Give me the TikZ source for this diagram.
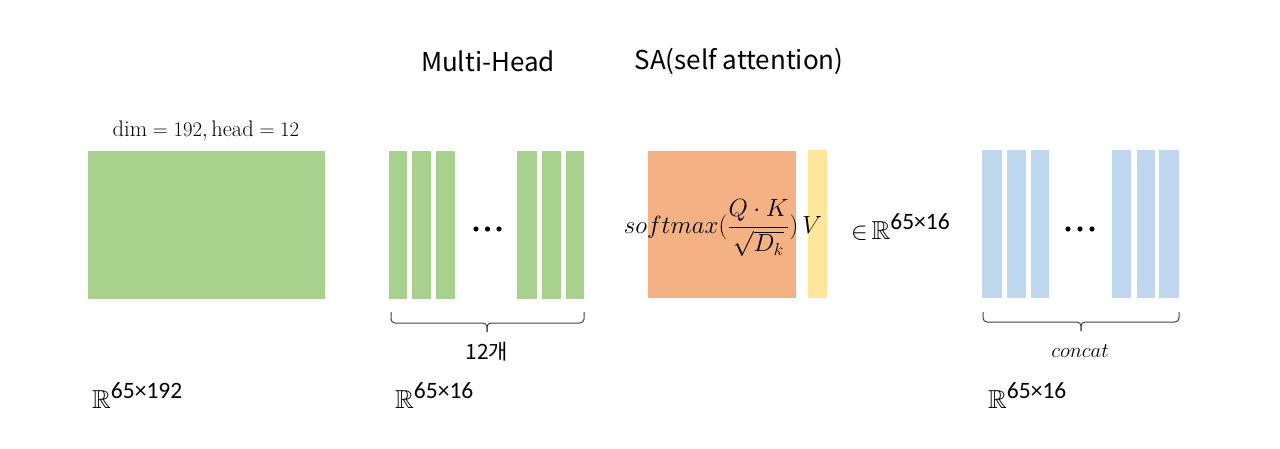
\documentclass[tikz,border=0pt]{standalone}
\usepackage{amsmath,amssymb}
\usepackage{fontspec}
\newfontfamily\krfont{Noto Sans CJK KR}
\newfontfamily\calfont{Carlito}
\definecolor{cgreen}{HTML}{A9D18E}
\definecolor{corange}{HTML}{F4B183}
\definecolor{cyellow}{HTML}{FFE699}
\definecolor{cblue}{HTML}{BDD7EE}
\definecolor{cbrace}{HTML}{404040}
\tikzset{
  brc/.style={draw=cbrace, line width=1pt, rounded corners=4pt},
  dotc/.style={fill=black},
  title/.style={font=\krfont\fontsize{26}{30}\selectfont, inner sep=0pt},
  dimlab/.style={anchor=west, inner sep=0pt},
}
\newcommand{\Rdim}[1]{{\fontsize{26}{30}\selectfont$\mathbb{R}$}\raisebox{10pt}{\calfont\fontsize{23.5}{26}\selectfont #1}}
\begin{document}
\begin{tikzpicture}[x=1pt, y=-1pt]
\useasboundingbox (0,0) rectangle (1280,449);
% titles
\node[title] (mh) at (488,61) {Multi-Head};
\node[title] (sa) at (739,61) {SA(self attention)};
% dim label
\node[inner sep=0pt] (dimhead) at (206,131) {\fontsize{22.5}{26}\selectfont$\mathrm{dim}=192, \mathrm{head}=12$};
% big green block
\fill[cgreen] (88,151) rectangle (325,299);
% multi-head strips
\foreach \a/\b in {389/407, 412/431, 436/455, 517/537, 542/561, 566/584}
  \fill[cgreen] (\a,151) rectangle (\b,299);
\foreach \x in {476,487.5,499} \fill[dotc] (\x,229) circle (2.6);
\coordinate (b1l) at (391,312);
\coordinate (b1r) at (584,312);
\coordinate (b1m) at (487,323);
\coordinate (b1t) at (487,332);
\draw[brc] (b1l) |- (b1m) -- (b1t);
\draw[brc] (b1r) |- (b1m) -- (b1t);
\node[inner sep=0pt] (cnt) at (487,352) {\krfont\fontsize{21}{24}\selectfont 12개};
% attention
\fill[corange] (648,151) rectangle (796,298);
\fill[cyellow] (808,150) rectangle (827,298);
\node[inner sep=0pt] (formula) at (723,228) {\fontsize{25}{30}\selectfont$softmax(\dfrac{Q\cdot K}{\sqrt{D_k}})\,V$};
\node[dimlab] (inR) at (851,227) {\fontsize{23}{26}\selectfont$\in$\,\Rdim{65×16}};
% blue strips
\foreach \a/\b in {982/1002, 1007/1026, 1031/1049, 1112/1131, 1137/1155, 1159/1179}
  \fill[cblue] (\a,150) rectangle (\b,298);
\foreach \x in {1068,1080,1092} \fill[dotc] (\x,229) circle (2.6);
\coordinate (b2l) at (983,312);
\coordinate (b2r) at (1179,312);
\coordinate (b2m) at (1081,322);
\coordinate (b2t) at (1081,331);
\draw[brc] (b2l) |- (b2m) -- (b2t);
\draw[brc] (b2r) |- (b2m) -- (b2t);
\node[inner sep=0pt] (concat) at (1080,351) {\fontsize{22}{26}\selectfont$concat$};
% bottom dims
\node[dimlab] (r1) at (92,396) {\Rdim{65×192}};
\node[dimlab] (r2) at (395,396) {\Rdim{65×16}};
\node[dimlab] (r3) at (988,396) {\Rdim{65×16}};
\end{tikzpicture}
\end{document}
